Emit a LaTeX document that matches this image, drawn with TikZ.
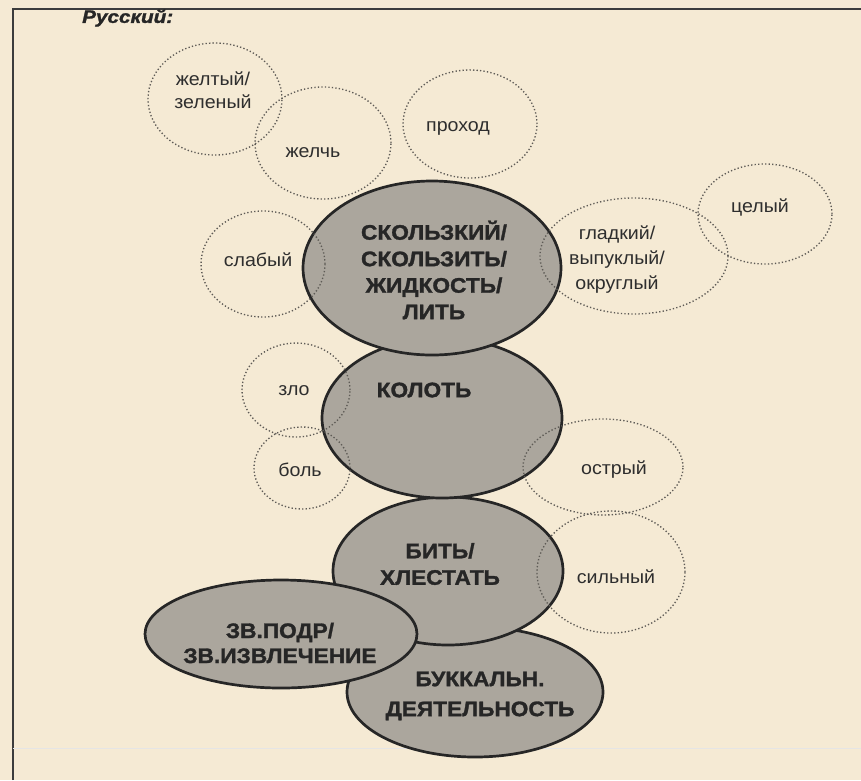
\documentclass[tikz,border=0pt]{standalone}
\usepackage{fontspec}
\setmainfont{Liberation Sans}
\newfontfamily\titlefont[FakeStretch=1.15, FakeBold=1.5]{Liberation Sans Bold Italic}
\newfontfamily\heavyfont[FakeStretch=1.08, FakeBold=1.5]{Liberation Sans Bold}
\newfontfamily\labfont[FakeStretch=1.06]{Liberation Sans}
\usetikzlibrary{shapes.geometric}
\definecolor{paper}{HTML}{F5EAD4}
\definecolor{ink}{HTML}{262626}
\definecolor{blobfill}{HTML}{ABA69D}
\definecolor{dotc}{HTML}{5E5B56}
\definecolor{labc}{HTML}{2E2E2E}
\tikzset{
  blob/.style={ellipse, draw=ink, line width=2.7pt, fill=blobfill, inner sep=0pt},
  halo/.style={ellipse, draw=dotc, line width=1.35pt, dash pattern=on 1.3pt off 2.2pt, inner sep=0pt},
  biglab/.style={font=\heavyfont\fontsize{21}{26.5}\selectfont, text=ink, align=center, inner sep=0pt},
  smalllab/.style={font=\labfont\fontsize{18.5}{24.5}\selectfont, text=labc, align=center, inner sep=0pt},
}
\begin{document}
\begin{tikzpicture}[x=1pt,y=-1pt]
\fill[paper] (0,0) rectangle (861,780);
\useasboundingbox (0,0) rectangle (861,780);
% frame
\draw[line width=1.8pt, color=ink!90] (13,780) -- (13,9) -- (861,9);
\draw[line width=0.8pt, color=ink!12] (13,748) -- (861,748);
% title
\node[anchor=west, inner sep=0pt, font=\titlefont\fontsize{18}{18}\selectfont, text=ink] (title) at (82,18) {Русский:};
% filled ellipses (back to front)
\node[blob, minimum width=256pt, minimum height=130pt] (bukk) at (475,692) {};
\node[blob, minimum width=230pt, minimum height=148pt] (bit) at (448,571) {};
\node[blob, minimum width=272pt, minimum height=108pt] (zv) at (281,634) {};
\node[blob, minimum width=240pt, minimum height=160pt] (kolot) at (442,418) {};
\node[blob, minimum width=258pt, minimum height=174pt] (skol) at (432,268) {};
% dotted circles
\node[halo, minimum width=134pt, minimum height=112pt] (zhelt) at (215,99) {};
\node[halo, minimum width=136pt, minimum height=112pt] (zhelch) at (323,143) {};
\node[halo, minimum width=134pt, minimum height=108pt] (prohod) at (470,124) {};
\node[halo, minimum width=134pt, minimum height=100pt] (celyi) at (765,214) {};
\node[halo, minimum width=188pt, minimum height=116pt] (gladk) at (634,256) {};
\node[halo, minimum width=124pt, minimum height=106pt] (slab) at (263,264) {};
\node[halo, minimum width=108pt, minimum height=94pt] (zlo) at (296,390) {};
\node[halo, minimum width=96pt, minimum height=82pt] (bol) at (302,468) {};
\node[halo, minimum width=160pt, minimum height=96pt] (ostr) at (603,467) {};
\node[halo, minimum width=148pt, minimum height=122pt] (silny) at (611,572) {};
% big labels
\node[biglab] (tskol) at (434,270) {СКОЛЬЗКИЙ/\\СКОЛЬЗИТЬ/\\ЖИДКОСТЬ/\\ЛИТЬ};
\node[biglab] (tkolot) at (424,390) {КОЛОТЬ};
\node[biglab] (tbit) at (440,564) {БИТЬ/\\ХЛЕСТАТЬ};
\node[biglab, font=\heavyfont\fontsize{21}{25}\selectfont] (tzv) at (280,643) {ЗВ.ПОДР/\\ЗВ.ИЗВЛЕЧЕНИЕ};
\node[biglab, font=\heavyfont\fontsize{21}{30}\selectfont] (tbukk) at (480,696) {БУККАЛЬН.\\ДЕЯТЕЛЬНОСТЬ};
% small labels
\node[smalllab, font=\labfont\fontsize{18.5}{23}\selectfont] (tzhelt) at (213,90) {желтый/\\зеленый};
\node[smalllab] (tzhelch) at (313,153) {желчь};
\node[smalllab] (tprohod) at (458,128) {проход};
\node[smalllab] (tcelyi) at (760,207) {целый};
\node[smalllab, font=\labfont\fontsize{18.5}{25}\selectfont] (tgladk) at (617,260) {гладкий/\\выпуклый/\\округлый};
\node[smalllab] (tslab) at (258,260) {слабый};
\node[smalllab] (tzlo) at (294,391) {зло};
\node[smalllab] (tbol) at (300,470) {боль};
\node[smalllab] (tostr) at (614,470) {острый};
\node[smalllab] (tsilny) at (616,577) {сильный};
\end{tikzpicture}
\end{document}
